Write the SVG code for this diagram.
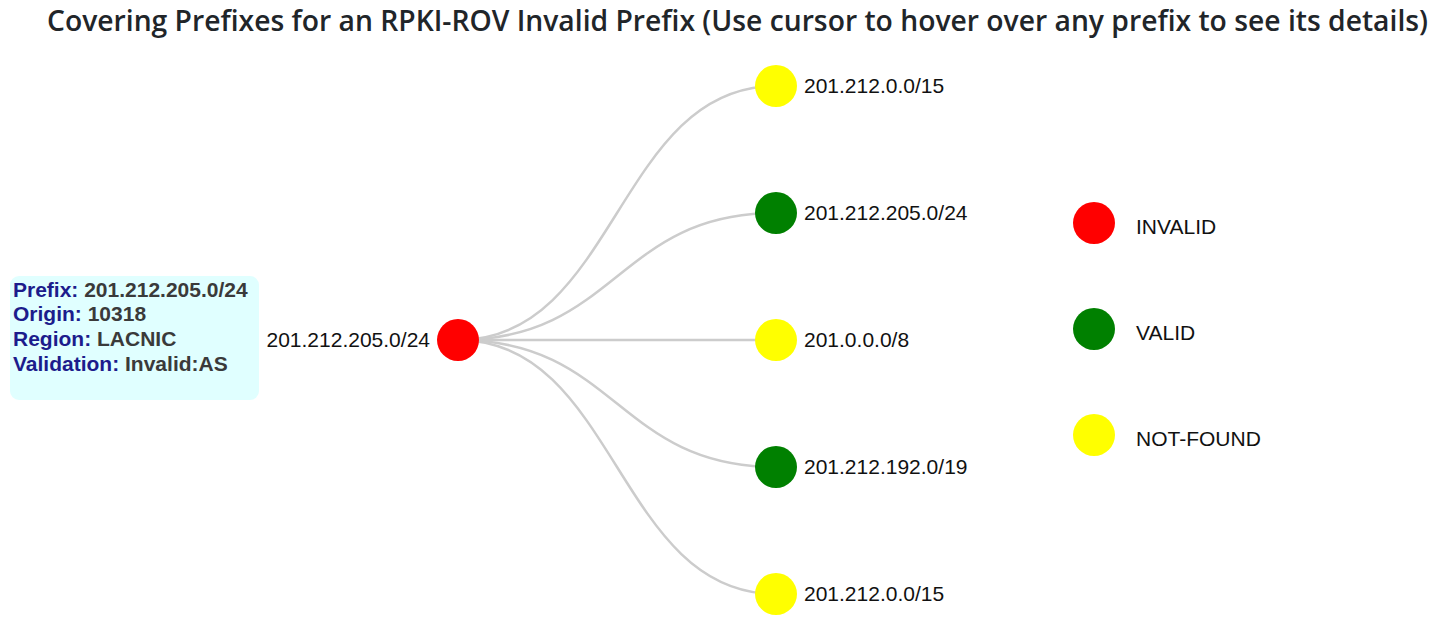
<svg xmlns="http://www.w3.org/2000/svg" width="1443" height="619" viewBox="0 0 1443 619">
<style>
.title{font-family:"Open Sans","Noto Sans",sans-serif;font-weight:600;font-size:28px;fill:#212529}
.lbl{font-family:"Liberation Sans",Arial,sans-serif;font-size:21px;fill:#111}
.link{fill:none;stroke:#ccc;stroke-width:2.5}
.tip{font-family:"Liberation Sans",Arial,sans-serif;font-size:21px;font-weight:bold;fill:#3a3a3a}
.tk{fill:#1c1c8c}
.inv{fill:#ff0000}.val{fill:#008000}.nf{fill:#ffff00}
</style>
<rect width="1443" height="619" fill="#fff"/>
<text class="title" x="737.5" y="31" text-anchor="middle" textLength="1381" lengthAdjust="spacingAndGlyphs">Covering Prefixes for an RPKI-ROV Invalid Prefix (Use cursor to hover over any prefix to see its details)</text>
<g id="links">
<path class="link" d="M458,340C617,340 617,86 776,86"/>
<path class="link" d="M458,340C617,340 617,213 776,213"/>
<path class="link" d="M458,340L776,340"/>
<path class="link" d="M458,340C617,340 617,467 776,467"/>
<path class="link" d="M458,340C617,340 617,594 776,594"/>
</g>
<g id="root"><circle class="inv" cx="458" cy="340" r="21"/><text class="lbl" x="430" y="347" text-anchor="end">201.212.205.0/24</text></g>
<g id="n1"><circle class="nf" cx="776" cy="86" r="21"/><text class="lbl" x="804" y="93">201.212.0.0/15</text></g>
<g id="n2"><circle class="val" cx="776" cy="213" r="21"/><text class="lbl" x="804" y="220">201.212.205.0/24</text></g>
<g id="n3"><circle class="nf" cx="776" cy="340" r="21"/><text class="lbl" x="804" y="347">201.0.0.0/8</text></g>
<g id="n4"><circle class="val" cx="776" cy="467" r="21"/><text class="lbl" x="804" y="474">201.212.192.0/19</text></g>
<g id="n5"><circle class="nf" cx="776" cy="594" r="21"/><text class="lbl" x="804" y="601">201.212.0.0/15</text></g>
<g id="legend">
<circle class="inv" cx="1094" cy="223" r="21"/><text class="lbl" x="1136" y="234">INVALID</text>
<circle class="val" cx="1094" cy="329" r="21"/><text class="lbl" x="1136" y="340">VALID</text>
<circle class="nf" cx="1094" cy="435" r="21"/><text class="lbl" x="1136" y="446">NOT-FOUND</text>
</g>
<g id="tooltip">
<rect x="10" y="276" width="249" height="124" rx="9" fill="#e0ffff"/>
<text class="tip" x="13" y="297"><tspan class="tk">Prefix:</tspan> 201.212.205.0/24</text>
<text class="tip" x="13" y="321"><tspan class="tk">Origin:</tspan> 10318</text>
<text class="tip" x="13" y="346"><tspan class="tk">Region:</tspan> LACNIC</text>
<text class="tip" x="13" y="371"><tspan class="tk">Validation:</tspan> Invalid:AS</text>
</g>
</svg>
